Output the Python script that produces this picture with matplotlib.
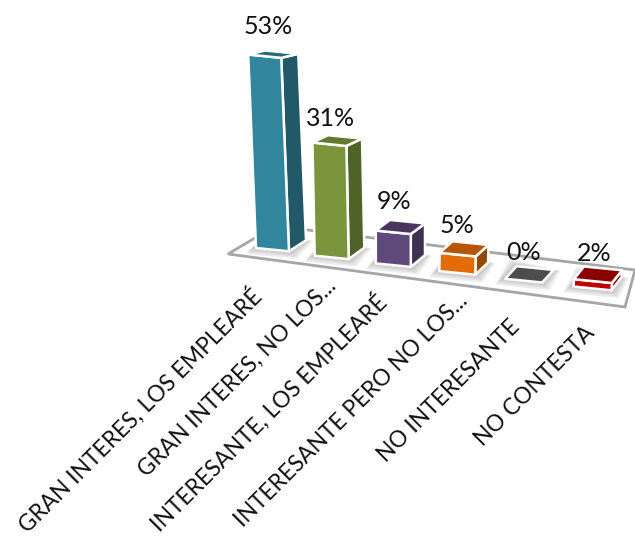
import numpy as np
import matplotlib
matplotlib.use("Agg")
import matplotlib.pyplot as plt
from matplotlib.patches import Polygon

categorias = ["GRAN INTERES, LOS EMPLEARÉ", "GRAN INTERES, NO LOS...",
              "INTERESANTE, LOS EMPLEARÉ", "INTERESANTE PERO NO LOS...",
              "NO INTERESANTE", "NO CONTESTA"]
valores = [53, 31, 9, 5, 0, 2]

cor_frente = ["#31859c", "#7a953b", "#5f497a", "#e36c09", "#4d4d4d", "#c00000"]
cor_topo = ["#27697b", "#627a2f", "#4a3560", "#b65708", "#4d4d4d", "#8b0000"]
cor_lado = ["#215968", "#4f6228", "#403152", "#974806", "#404040", "#8b0000"]

plt.rcParams['font.family'] = ['Lato', 'DejaVu Sans']

# escala do grafico em pixels
px_por_ponto = 3.65
x_base, y_base = 256, 248
passo_y = 7.7
# ajuste fino dos textos
ajuste_rotulo = [(-7, 35), (11, 19), (-2, 26), (18, 19), (4, 37), (10, 36)]
ajuste_valor = [(20, -21), (18, -17), (18, -22), (17, -20), (18, -19), (20, -18)]


def face(ax, pontos, cor, lw=1.8):
    ax.add_patch(Polygon(pontos, closed=True, facecolor=cor, edgecolor="white",
                         linewidth=lw, joinstyle="round", zorder=4))


def sombra(ax, x0, y0, larg, dx, dy):
    # sombra difusa: varios poligonos transparentes
    for s in [7, 5, 3, 1]:
        p = [(x0 - s - 3, y0 + s - 1), (x0 + larg + s, y0 + larg * 0.12 + s),
             (x0 + larg + dx + s, y0 + larg * 0.12 + dy),
             (x0 + dx - s, y0 + dy - s)]
        ax.add_patch(Polygon(p, closed=True, facecolor="#555555", edgecolor="none",
                             alpha=0.10, zorder=3))


fig = plt.figure(figsize=(6.35, 5.43), dpi=100)
ax = fig.add_axes([0, 0, 1, 1])
ax.set_xlim(0, 635)
ax.set_ylim(543, 0)
ax.axis("off")

# chao do grafico
chao = [(228, 254), (275, 226), (635, 270), (625, 307)]
ax.add_patch(Polygon(chao, closed=True, facecolor="white", edgecolor="#a6a6a6",
                     linewidth=2, zorder=2))

for i, v in enumerate(valores):
    x0 = x_base + 57.5 * i + 1.2 * i * i
    y0 = y_base + passo_y * i
    larg = 33 + 1.0 * i
    dx = 17 - 1.4 * i
    dy = -11 - 0.4 * i
    h = v * px_por_ponto
    incl = (-0.04 + 0.02 * i) * h
    qy = larg * 0.1
    dy_topo = dy + 7 * h / 195

    sombra(ax, x0, y0, larg, dx, dy)

    fe = (x0 + incl, y0 - h)
    fd = (x0 + larg + incl, y0 + qy - h)
    td = (x0 + larg + dx + incl, y0 + qy + dy_topo - h)
    te = (x0 + dx + incl, y0 + dy_topo - h)
    be = (x0, y0)
    bd = (x0 + larg, y0 + qy)
    bt = (x0 + larg + dx, y0 + qy + dy)

    if v > 0:
        face(ax, [fd, td, bt, bd], cor_lado[i])
        face(ax, [fe, fd, bd, be], cor_frente[i])
    face(ax, [fe, fd, td, te], cor_topo[i])

    ax.text(x0 + ajuste_valor[i][0] + incl, y0 - h + ajuste_valor[i][1], f"{v}%", ha="center",
            va="baseline", fontsize=18, color="#111111", zorder=6)

    ax.text(x0 + ajuste_rotulo[i][0], y0 + ajuste_rotulo[i][1], categorias[i], rotation=45, ha="right", va="top",
            rotation_mode="anchor", fontsize=16.3, color="#111111", zorder=6)

fig.savefig("out.png", dpi=100)
